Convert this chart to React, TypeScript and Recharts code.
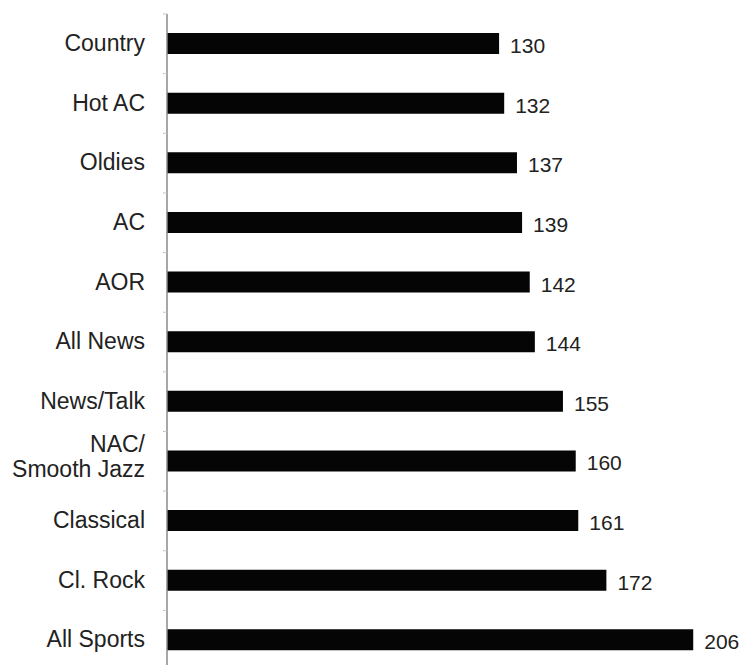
import React from "react";
import { BarChart, Bar, XAxis, YAxis, LabelList } from "recharts";

const formats = [
  "Country",
  "Hot AC",
  "Oldies",
  "AC",
  "AOR",
  "All News",
  "News/Talk",
  "NAC/\nSmooth Jazz",
  "Classical",
  "Cl. Rock",
  "All Sports",
];
const values = [130, 132, 137, 139, 142, 144, 155, 160, 161, 172, 206];

const data = formats.map((format, i) => ({ format, value: values[i] }));

const FONT = "'Liberation Sans', Arial, sans-serif";
const BAND = 59.6;

const FormatTick = (props: any) => {
  const { x, y, payload } = props;
  const lines = String(payload.value).split("\n");
  const axisX = x + 22;
  const lineH = 25;
  const startDy = lines.length > 1 ? -15.2 : 1.3;
  return (
    <g>
      <line
        x1={axisX - 4}
        x2={axisX}
        y1={y - BAND / 2}
        y2={y - BAND / 2}
        stroke="#c4c4c4"
        strokeWidth={1}
      />
      <text
        x={x}
        y={y}
        textAnchor="end"
        fill="#222"
        fontFamily={FONT}
        fontSize={23}
        dominantBaseline="middle"
      >
        {lines.map((line, i) => (
          <tspan key={i} x={x} dy={i === 0 ? startDy : lineH}>
            {line}
          </tspan>
        ))}
      </text>
    </g>
  );
};

const App = () => {
  return (
    <div
      style={{
        position: "absolute",
        top: 0,
        left: 0,
        width: 744,
        height: 665,
        overflow: "hidden",
        background: "#fff",
      }}
    >
      <BarChart
        width={744}
        height={672}
        data={data}
        layout="vertical"
        margin={{ top: 14, right: 15, left: 0, bottom: 2 }}
        barSize={21}
      >
        <XAxis type="number" domain={[0, 220]} hide />
        <YAxis
          type="category"
          dataKey="format"
          width={167}
          axisLine={{ stroke: "#8a8a8a", strokeWidth: 1.5 }}
          tickLine={false}
          tickSize={6}
          tickMargin={16}
          interval={0}
          tick={<FormatTick />}
        />
        <Bar dataKey="value" fill="#050505" isAnimationActive={false}>
          <LabelList
            dataKey="value"
            position="right"
            offset={11}
            fill="#222"
            fontFamily={FONT}
            fontSize={21}
            dy={2}
          />
        </Bar>
      </BarChart>
    </div>
  );
};

export default App;
